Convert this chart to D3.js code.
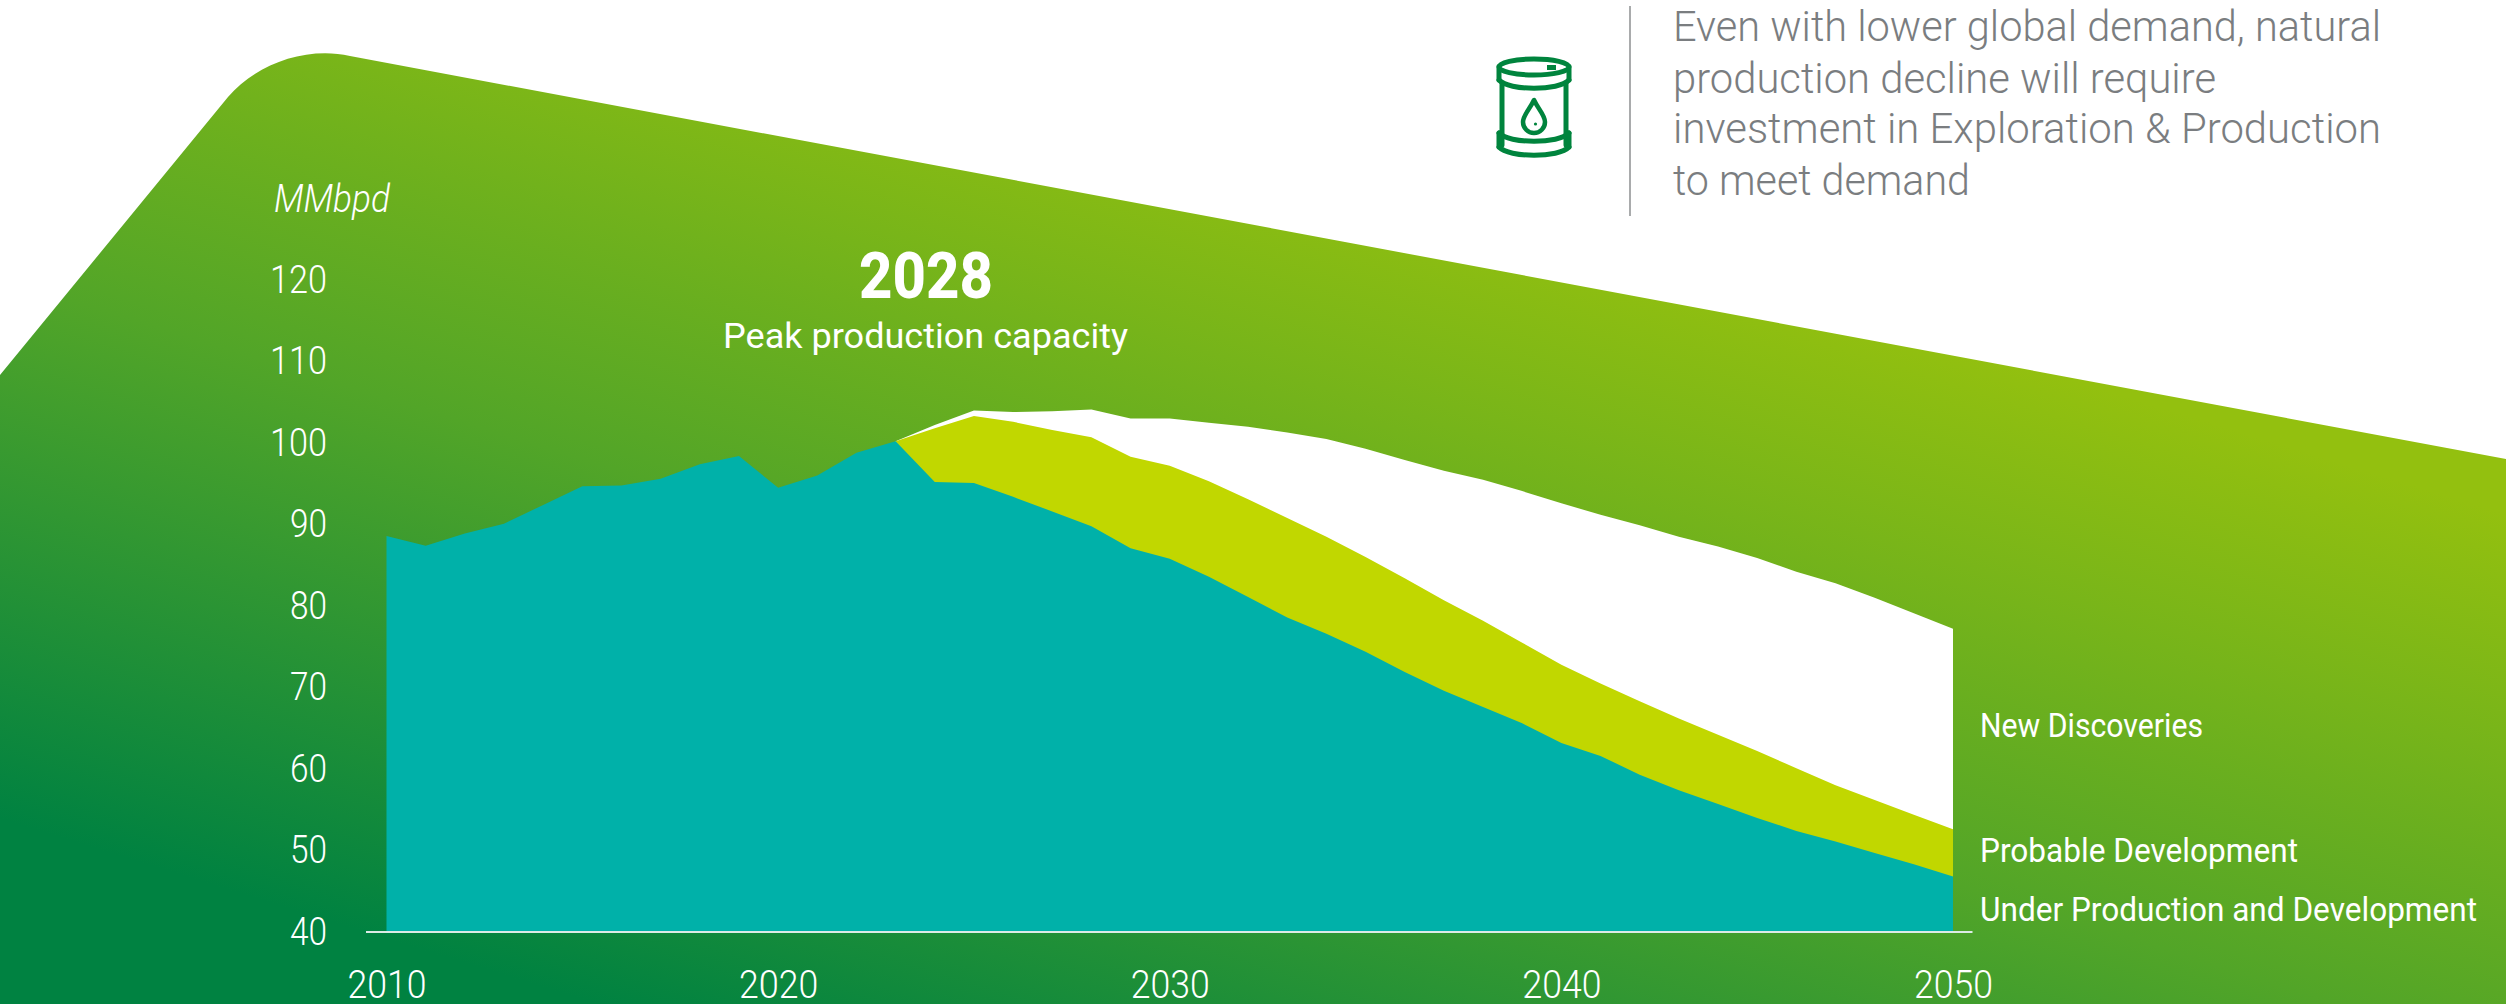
<!DOCTYPE html>
<html>
<head>
<meta charset="utf-8">
<style>
  html, body { margin: 0; padding: 0; background: #fff; }
  svg { display: block; }
  text { font-family: Roboto, "Noto Sans", sans-serif; }
</style>
<script src="https://cdn.jsdelivr.net/npm/d3@7/dist/d3.min.js"></script>
</head>
<body>
<svg id="chart" width="2506" height="1004"></svg>
<script>
// Global liquids production capacity outlook, million barrels per day.
const years = d3.range(2010, 2051);
const underProduction = [
  88.6, 87.4, 88.9, 90.1, 92.4, 94.7, 94.8, 95.6, 97.4, 98.4,
  94.5, 96.0, 98.8, 100.2, 95.2, 95.1, 93.4, 91.6, 89.8, 87.1,
  85.8, 83.6, 81.1, 78.6, 76.6, 74.4, 71.9, 69.6, 67.6, 65.6,
  63.2, 61.6, 59.3, 57.4, 55.7, 54.0, 52.4, 51.1, 49.7, 48.3, 46.8
];
const probableTop = [
  88.6, 87.4, 88.9, 90.1, 92.4, 94.7, 94.8, 95.6, 97.4, 98.4,
  94.5, 96.0, 98.8, 100.2, 101.8, 103.3, 102.6, 101.6, 100.7, 98.3,
  97.2, 95.3, 93.1, 90.8, 88.5, 86.0, 83.4, 80.7, 78.2, 75.5,
  72.8, 70.5, 68.3, 66.2, 64.2, 62.2, 60.1, 58.0, 56.2, 54.4, 52.6
];
const discoveriesTop = [
  88.6, 87.4, 88.9, 90.1, 92.4, 94.7, 94.8, 95.6, 97.4, 98.4,
  94.5, 96.0, 98.8, 100.2, 102.2, 104.0, 103.8, 103.9, 104.1, 103.0,
  103.0, 102.5, 102.0, 101.3, 100.5, 99.3, 97.9, 96.6, 95.5, 94.1,
  92.6, 91.2, 89.9, 88.5, 87.3, 85.9, 84.2, 82.8, 81.0, 79.1, 77.2
];
const forecastStart = 2023;
const yTicks = [40, 50, 60, 70, 80, 90, 100, 110, 120];
const xTicks = [2010, 2020, 2030, 2040, 2050];
const seriesLabels = [
  { text: "New Discoveries", baseline: 737, width: 223 },
  { text: "Probable Development", baseline: 862, width: 318 },
  { text: "Under Production and Development", baseline: 921, width: 497 }
];
const noteLines = [
  { text: "Even with lower global demand, natural", baseline: 41, width: 708 },
  { text: "production decline will require", baseline: 93, width: 543 },
  { text: "investment in Exploration & Production", baseline: 143, width: 708 },
  { text: "to meet demand", baseline: 195, width: 297 }
];

const svg = d3.select("#chart");
const x = d3.scaleLinear().domain([2010, 2050]).range([386.5, 1953]);
const y = d3.scaleLinear().domain([40, 120]).range([932, 280]);

// Backdrop gradient, dark green at the lower left to yellow-green at the upper right.
const defs = svg.append("defs");
const grad = defs.append("linearGradient")
  .attr("id", "backdrop")
  .attr("gradientUnits", "userSpaceOnUse")
  .attr("x1", 0).attr("y1", 819).attr("x2", 306).attr("y2", -168);
grad.append("stop").attr("offset", 0).attr("stop-color", "#008241");
grad.append("stop").attr("offset", 0.5).attr("stop-color", "#52a528");
grad.append("stop").attr("offset", 1).attr("stop-color", "#93c00f");

const panel = d3.path();
panel.moveTo(0, 375);
panel.lineTo(228, 97);
panel.bezierCurveTo(255, 65, 305, 46, 350, 56);
panel.lineTo(2506, 459);
panel.lineTo(2506, 1004);
panel.lineTo(0, 1004);
panel.closePath();
svg.append("path").attr("d", panel.toString()).attr("fill", "url(#backdrop)");

// Capacity bands. The forecast bands start where history ends and run down
// to the baseline, with each narrower band painted over the previous one.
const band = (top, from) => d3.area()
  .defined((d, i) => years[i] >= from)
  .x((d, i) => x(years[i]))
  .y0(y(40))
  .y1((d, i) => y(top[i]))(top);

svg.append("path").attr("d", band(discoveriesTop, forecastStart)).attr("fill", "#ffffff");
svg.append("path").attr("d", band(probableTop, forecastStart)).attr("fill", "#c1d700");
svg.append("path").attr("d", band(underProduction, 2010)).attr("fill", "#00b1a9");

// Baseline
svg.append("line")
  .attr("x1", 366).attr("x2", 1972.5)
  .attr("y1", y(40)).attr("y2", y(40))
  .attr("stroke", "#dcebe6").attr("stroke-width", 2);

// Axis labels
const yAxis = d3.axisLeft(y).tickValues(yTicks).tickSize(0).tickPadding(0);
svg.append("g").attr("transform", "translate(327,0)").call(yAxis)
  .call(g => g.select(".domain").remove())
  .selectAll("text")
  .attr("fill", "#fff").attr("font-size", 38).attr("font-weight", 300)
  .style("font-family", "Roboto, sans-serif")
  .attr("dy", 12).attr("dx", 0)
  .attr("textLength", d => d >= 100 ? 57 : 37)
  .attr("lengthAdjust", "spacingAndGlyphs");

const xAxis = d3.axisBottom(x).tickValues(xTicks).tickFormat(d3.format("d")).tickSize(0).tickPadding(0);
svg.append("g").attr("transform", "translate(0,997.5)").call(xAxis)
  .call(g => g.select(".domain").remove())
  .selectAll("text")
  .attr("y", 0).attr("dy", 0)
  .attr("fill", "#fff").attr("font-size", 38).attr("font-weight", 300)
  .style("font-family", "Roboto, sans-serif")
  .attr("textLength", 79)
  .attr("lengthAdjust", "spacingAndGlyphs");

// Unit
svg.append("text")
  .attr("x", 274).attr("y", 212)
  .attr("fill", "#fff").attr("font-size", 38).attr("font-weight", 300)
  .attr("font-style", "italic")
  .attr("textLength", 116).attr("lengthAdjust", "spacingAndGlyphs")
  .text("MMbpd");

// Peak callout
svg.append("text")
  .attr("x", 859).attr("y", 298)
  .attr("fill", "#fff").attr("font-size", 65).attr("font-weight", 800)
  .attr("textLength", 134).attr("lengthAdjust", "spacingAndGlyphs")
  .text("2028");
svg.append("text")
  .attr("x", 723).attr("y", 348)
  .attr("fill", "#fff").attr("font-size", 35).attr("font-weight", 400)
  .attr("textLength", 405).attr("lengthAdjust", "spacingAndGlyphs")
  .text("Peak production capacity");

// Series labels
svg.append("g").selectAll("text").data(seriesLabels).join("text")
  .attr("x", 1980).attr("y", d => d.baseline)
  .attr("fill", "#fff").attr("font-size", 33).attr("font-weight", 400)
  .attr("textLength", d => d.width).attr("lengthAdjust", "spacingAndGlyphs")
  .text(d => d.text);

// Note at the upper right
svg.append("line")
  .attr("x1", 1630).attr("x2", 1630).attr("y1", 6).attr("y2", 216)
  .attr("stroke", "#a9abac").attr("stroke-width", 2);
svg.append("g").selectAll("text").data(noteLines).join("text")
  .attr("x", 1673).attr("y", d => d.baseline)
  .attr("fill", "#7a7d80").attr("font-size", 42).attr("font-weight", 300)
  .attr("textLength", d => d.width).attr("lengthAdjust", "spacingAndGlyphs")
  .text(d => d.text);

// Oil barrel pictogram
const barrel = svg.append("g")
  .attr("transform", "translate(1534,107)")
  .attr("fill", "none").attr("stroke", "#00843d").attr("stroke-width", 5)
  .attr("stroke-linecap", "round").attr("stroke-linejoin", "round");
barrel.append("ellipse").attr("cx", 0).attr("cy", -40).attr("rx", 35).attr("ry", 8);
barrel.append("path").attr("d", "M-35,-40 V-27 M35,-40 V-27");
barrel.append("path").attr("d", "M-35,-27 C-25,-16 25,-16 35,-27");
barrel.append("path").attr("d", "M-32,-24 V38 M32,-24 V38");
barrel.append("path").attr("d", "M-35,26 C-25,37 25,37 35,26");
barrel.append("path").attr("d", "M-35,26 V40 M35,26 V40");
barrel.append("path").attr("d", "M-35,40 C-25,51 25,51 35,40");
barrel.append("path").attr("d", "M0,-7 C-4,2 -11,8 -11,15 A11,11 0 0 0 11,15 C11,8 4,2 0,-7 Z")
  .attr("stroke-width", 4.5);
barrel.append("rect").attr("x", 13).attr("y", -42).attr("width", 9).attr("height", 5)
  .attr("fill", "#00843d").attr("stroke", "none");
barrel.append("circle").attr("cx", 1.5).attr("cy", 17).attr("r", 1.6)
  .attr("fill", "#00843d").attr("stroke", "none");
</script>
</body>
</html>
